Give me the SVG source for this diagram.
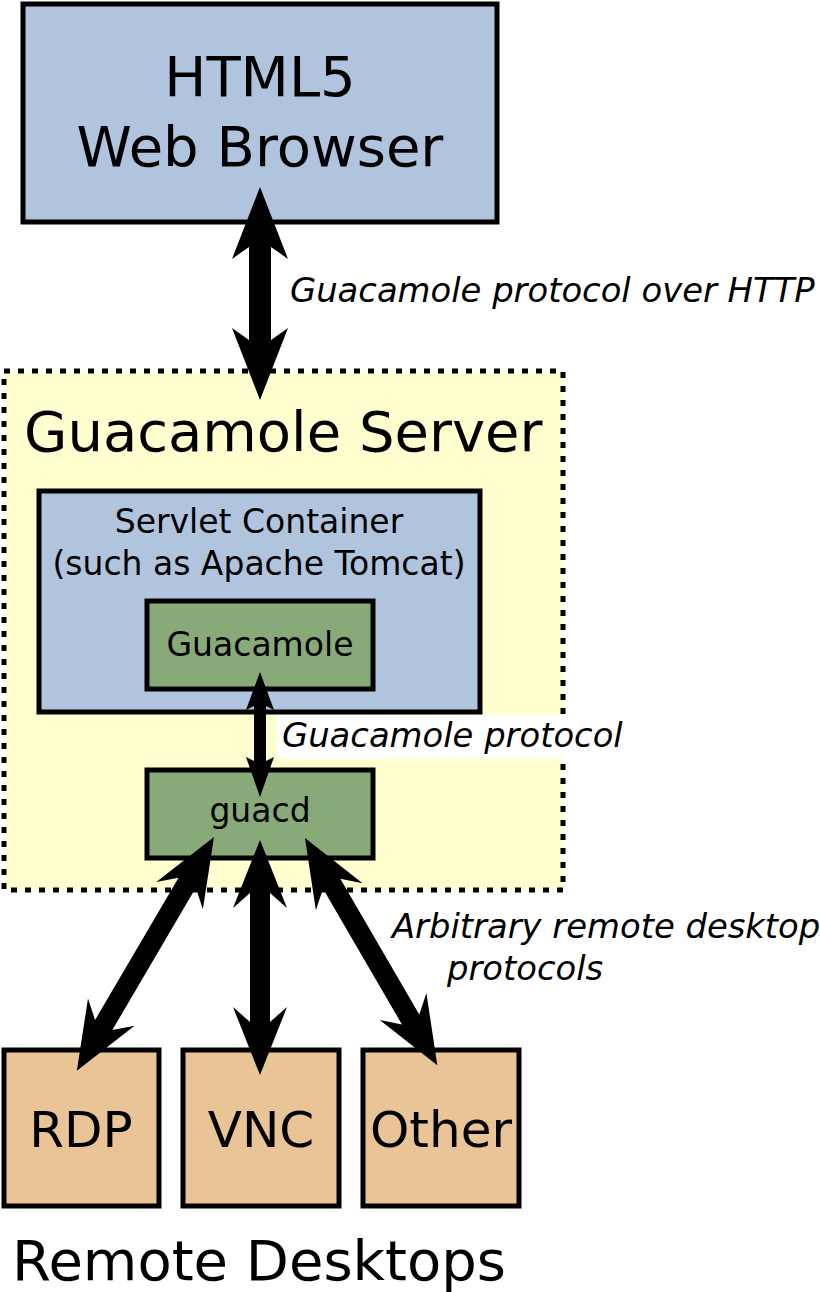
<svg xmlns="http://www.w3.org/2000/svg" width="820" height="1292" viewBox="0 0 820 1292">
<style>
text{font-family:"DejaVu Sans",sans-serif;fill:#000}
.b{stroke:#000;stroke-width:5}
.lbl{font-style:italic;font-size:33.8px}
.c{text-anchor:middle}
</style>
<rect width="820" height="1292" fill="#fff"/>
<g id="browser"><rect class="b" x="23" y="4" width="474" height="218" fill="#b0c4de"/>
<text class="c" x="260" y="96" font-size="56">HTML5</text>
<text class="c" x="260" y="166" font-size="56">Web Browser</text></g>
<g id="server"><rect x="4" y="371" width="559" height="519" fill="#ffffd0" stroke="#000" stroke-width="5" stroke-dasharray="6,8"/>
<text x="24" y="451" font-size="56">Guacamole Server</text></g>
<g id="servlet"><rect class="b" x="39" y="491" width="441" height="221" fill="#b0c4de"/>
<text class="c" x="259" y="533" font-size="33">Servlet Container</text>
<text class="c" x="259" y="575" font-size="33">(such as Apache Tomcat)</text></g>
<g id="guacamole"><rect class="b" x="147" y="601" width="226" height="88" fill="#87aa78"/>
<text class="c" x="260" y="656" font-size="33">Guacamole</text></g>
<g id="guacd"><rect class="b" x="147" y="770" width="226" height="88" fill="#87aa78"/>
<text class="c" x="260" y="822" font-size="33">guacd</text></g>
<g id="rdp"><rect class="b" x="4" y="1050" width="155" height="156" fill="#e9c497"/><text class="c" x="81" y="1147" font-size="50">RDP</text></g>
<g id="vnc"><rect class="b" x="183" y="1050" width="156" height="156" fill="#e9c497"/><text class="c" x="261" y="1147" font-size="50">VNC</text></g>
<g id="other"><rect class="b" x="363" y="1050" width="156" height="156" fill="#e9c497"/><text class="c" x="441" y="1147" font-size="50">Other</text></g>
<text x="12" y="1280" font-size="56">Remote Desktops</text>
<g id="connectors" fill="#000">
<polygon points="260,187 288,259 271,247 271,340 288,328 260,400 232,328 249,340 249,247 232,259"/>
<polygon points="260,672 274,710 266,706 266,761 274,757 260,797 246,757 254,761 254,706 246,710"/>
<polygon points="260,840 287,908 270,893 270,1022 287,1007 260,1075 233,1007 250,1022 250,893 233,908"/>
<g transform="translate(214,837) rotate(30.4)"><polygon points="0,0 27,68 10,53 10,218 27,203 0,271 -27,203 -10,218 -10,53 -27,68"/></g>
<g transform="translate(305,838) rotate(-30.2)"><polygon points="0,0 27,68 10,53 10,210 27,195 0,263 -27,195 -10,210 -10,53 -27,68"/></g>
</g>
<text class="lbl" x="290" y="302">Guacamole protocol over HTTP</text>
<rect x="277" y="715" width="350" height="44" fill="#fff"/>
<text class="lbl" x="282" y="747">Guacamole protocol</text>
<text class="lbl" x="392" y="938">Arbitrary remote desktop</text>
<text class="lbl" x="447" y="980">protocols</text>
</svg>
